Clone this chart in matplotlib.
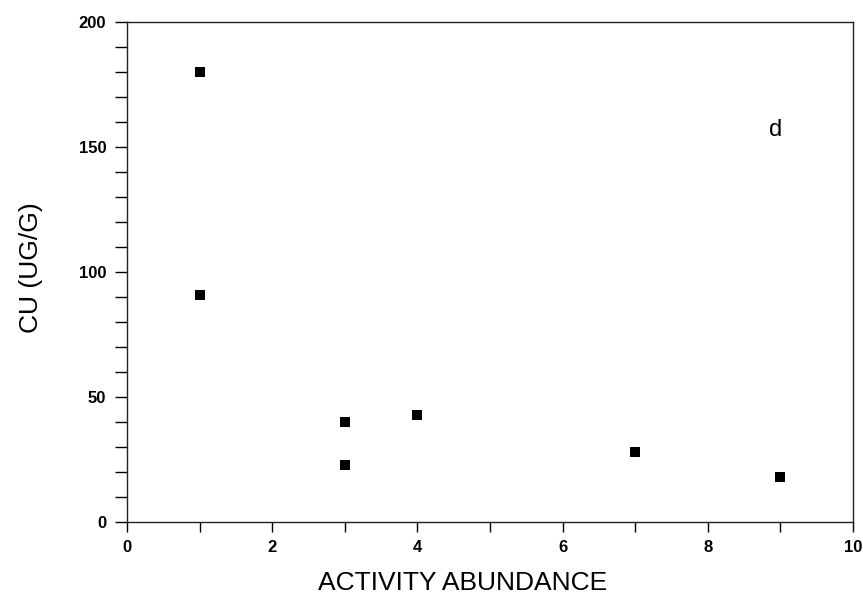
import numpy as np
import matplotlib
matplotlib.use("Agg")
import matplotlib.pyplot as plt
from matplotlib.ticker import MultipleLocator

# Cu concentration against activity abundance, panel d
abundance = [1, 1, 3, 3, 4, 7, 9]
cu_ugg = [180, 91, 40, 23, 43, 28, 18]

plt.rcParams["font.family"] = ["Liberation Sans", "DejaVu Sans"]

W, H = 863, 596
fig = plt.figure(figsize=(W / 100, H / 100), dpi=100)
ax = fig.add_axes([127 / W, 1 - 522 / H, (853 - 127) / W, (522 - 22) / H])

ax.scatter(abundance, cu_ugg, marker="s", s=60, color="black", linewidths=0, zorder=3)

ax.set_xlim(0, 10)
ax.set_ylim(0, 200)
ax.xaxis.set_major_locator(MultipleLocator(2))
ax.xaxis.set_minor_locator(MultipleLocator(1))
ax.yaxis.set_major_locator(MultipleLocator(50))
ax.yaxis.set_minor_locator(MultipleLocator(10))
ax.tick_params(which="both", direction="out", color="black", width=1.0)
ax.tick_params(axis="y", which="both", length=9, labelsize=12, pad=6)
ax.tick_params(axis="x", which="both", length=7, labelsize=12, pad=6)
for lbl in ax.get_xticklabels() + ax.get_yticklabels():
    lbl.set_fontweight("bold")

for side in ax.spines.values():
    side.set_linewidth(1.0)
    side.set_color("#222222")

# axis titles placed in figure pixels
fig.text(463 / W, 1 - 583 / H, "ACTIVITY ABUNDANCE", fontsize=19,
         ha="center", va="center")
fig.text(31 / W, 1 - 268 / H, "CU (UG/G)", fontsize=19, rotation=90,
         ha="center", va="center")
ax.text(8.93, 157, "d", fontsize=17, ha="center", va="center")

fig.savefig("out.png", dpi=100)
